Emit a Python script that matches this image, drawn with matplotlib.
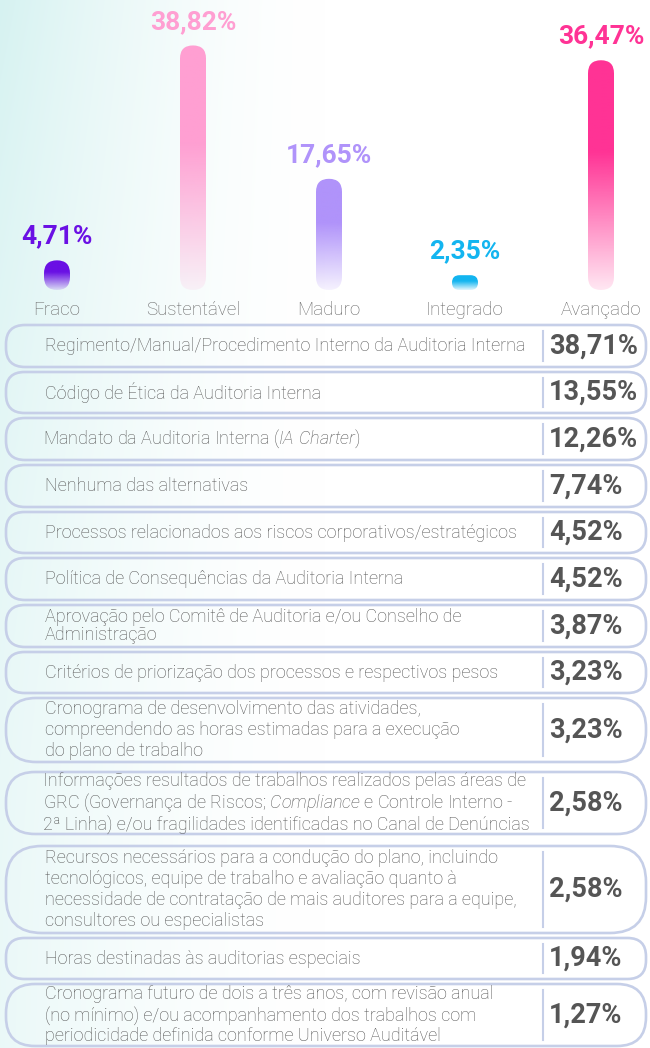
import numpy as np
import matplotlib.pyplot as plt
from matplotlib.patches import FancyBboxPatch
from matplotlib.colors import to_rgb

plt.rcParams['font.family'] = ['Roboto', 'DejaVu Sans']
plt.rcParams['mathtext.fontset'] = 'custom'
plt.rcParams['mathtext.rm'] = 'Roboto:light'
plt.rcParams['mathtext.it'] = 'Roboto:italic:light'

# maturity levels (top chart)
levels = ['Fraco', 'Sustentável', 'Maduro', 'Integrado', 'Avançado']
level_pct = [4.71, 38.82, 17.65, 2.35, 36.47]
level_colors = ['#6a10e4', '#ff9fd2', '#b093fa', '#13b5f0', '#ff3395']

# items (table)
items = [
    'Regimento/Manual/Procedimento Interno da Auditoria Interna',
    'Código de Ética da Auditoria Interna',
    'Mandato da Auditoria Interna ($\\mathit{IA\\ Charter}$)',
    'Nenhuma das alternativas',
    'Processos relacionados aos riscos corporativos/estratégicos',
    'Política de Consequências da Auditoria Interna',
    'Aprovação pelo Comitê de Auditoria e/ou Conselho de\nAdministração',
    'Critérios de priorização dos processos e respectivos pesos',
    'Cronograma de desenvolvimento das atividades,\ncompreendendo as horas estimadas para a execução\ndo plano de trabalho',
    'Informações resultados de trabalhos realizados pelas áreas de\n'
    'GRC (Governança de Riscos; $\\mathit{Compliance}$ e Controle Interno -\n'
    '2ª Linha) e/ou fragilidades identificadas no Canal de Denúncias',
    'Recursos necessários para a condução do plano, incluindo\n'
    'tecnológicos, equipe de trabalho e avaliação quanto à\n'
    'necessidade de contratação de mais auditores para a equipe,\n'
    'consultores ou especialistas',
    'Horas destinadas às auditorias especiais',
    'Cronograma futuro de dois a três anos, com revisão anual\n'
    '(no mínimo) e/ou acompanhamento dos trabalhos com\n'
    'periodicidade definida conforme Universo Auditável',
]
item_pct = [38.71, 13.55, 12.26, 7.74, 4.52, 4.52, 3.87, 3.23, 3.23, 2.58, 2.58, 1.94, 1.27]

# layout (pixels)
W, H = 650, 1048
row_tops = [325, 372, 418, 465, 512, 558, 605, 652, 698, 772, 846, 938, 984]
row_bottoms = [367, 413, 460, 507, 553, 600, 647, 693, 762, 834, 933, 979, 1046]
BAR_BOTTOM = 290
PX_PER_PCT = 6.3
BAR_W = 26
EDGE = '#c6cfe8'


def fmt(v):
    return '{:.2f}%'.format(v).replace('.', ',')


def main():
    fig = plt.figure(figsize=(W / 100, H / 100), dpi=100)

    # background + table, in pixel coordinates
    bg = fig.add_axes([0, 0, 1, 1])
    xx, yy = np.meshgrid(np.linspace(0, 1, W), np.linspace(0, 1, H))
    tint = np.clip(1 - xx / 0.5, 0, 1) ** 1.6 * (0.5 + 0.5 * (1 - yy) ** 2)
    base = np.array(to_rgb('#d6f2f1'))
    bg.imshow(1 - tint[..., None] * (1 - base), extent=[0, W, H, 0], aspect='auto', zorder=0)

    for i, (label, v) in enumerate(zip(items, item_pct)):
        top, bot = row_tops[i], row_bottoms[i]
        h = bot - top
        r = min(h / 2 - 2, 36)
        bg.add_patch(FancyBboxPatch((6, top), 640, h,
                                    boxstyle='round,pad=0,rounding_size={}'.format(r),
                                    facecolor='none', edgecolor=EDGE, linewidth=1.9, zorder=2))
        bg.plot([543, 543], [top + 6, bot - 6], color=EDGE, lw=1.5, zorder=2)
        mid = (top + bot) / 2
        has_math = '$' in label
        if has_math:
            spacing = 1.07
        elif label.count('\n') > 1:
            spacing = 1.2
        else:
            spacing = 1.05
        bg.text(43 if has_math else 45, mid, label, ha='left', va='center', fontsize=13,
                fontweight='light', color='#555555', linespacing=spacing, zorder=3)
        bg.text(549, mid, fmt(v), ha='left', va='center', fontsize=19.5, fontweight='bold',
                color='#555555', zorder=3)

    bg.set_xlim(0, W)
    bg.set_ylim(H, 0)
    bg.axis('off')

    # top bar chart
    ax = fig.add_axes([0, 1 - BAR_BOTTOM / H, 1, BAR_BOTTOM / H])
    ax.patch.set_alpha(0)
    xs = 57 + 136 * np.arange(len(levels))
    n = 200
    s = np.linspace(0, 1, n)
    alpha = np.where(s < 0.4, 1.0, 1.0 - (s - 0.4) / 0.6 * 0.88)
    for x, v, c in zip(xs, level_pct, level_colors):
        r = min(BAR_W / 2, v * PX_PER_PCT / 2)
        box = FancyBboxPatch((x - BAR_W / 2, 0), BAR_W, v,
                             boxstyle='round,pad=0,rounding_size={}'.format(r),
                             mutation_aspect=1 / PX_PER_PCT,
                             facecolor='none', edgecolor='none')
        ax.add_patch(box)
        grad = np.zeros((n, 1, 4))
        grad[..., :3] = to_rgb(c)
        grad[..., 3] = alpha[:, None]
        im = ax.imshow(grad, extent=[x - BAR_W / 2, x + BAR_W / 2, 0, v], aspect='auto',
                       interpolation='bilinear', zorder=2)
        im.set_clip_path(box)
        ax.annotate(fmt(v), (x, v), xytext=(0, 12), textcoords='offset points',
                    ha='center', va='baseline', fontsize=19, fontweight='bold', color=c)

    ax.set_xlim(0, W)
    ax.set_ylim(0, BAR_BOTTOM / PX_PER_PCT)
    ax.set_xticks(xs, levels)
    ax.set_yticks([])
    ax.tick_params(axis='x', length=0, pad=8, labelsize=13.5, labelcolor='#666666')
    for lab in ax.get_xticklabels():
        lab.set_fontweight('light')
    for sp in ax.spines.values():
        sp.set_visible(False)

    fig.savefig('out.png', dpi=100)


if __name__ == '__main__':
    main()
